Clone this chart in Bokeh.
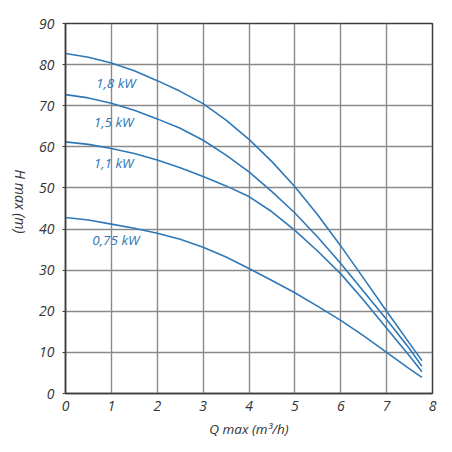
import math
from bokeh.plotting import figure
from bokeh.models import FixedTicker, Range1d, Label
from bokeh.embed import file_html
from bokeh.resources import INLINE

# flow Q (m3/h)
q = [0, 0.5, 1, 1.5, 2, 2.5, 3, 3.5, 4, 4.5, 5, 5.5, 6, 6.5, 7, 7.5, 7.77]

# head H (m) per motor power
h_18 = [82.7, 81.8, 80.4, 78.5, 76.1, 73.5, 70.5, 66.5, 61.8, 56.4, 50.3, 43.4, 35.9, 28.0, 20.0, 12.2, 8.0]
h_15 = [72.7, 71.9, 70.6, 68.9, 66.8, 64.5, 61.6, 58.0, 53.9, 49.1, 43.9, 38.0, 31.6, 24.8, 18.0, 10.9, 6.6]
h_11 = [61.2, 60.6, 59.6, 58.4, 56.8, 54.9, 52.8, 50.5, 47.9, 44.2, 39.7, 34.6, 29.1, 22.7, 15.9, 9.1, 5.3]
h_075 = [42.8, 42.2, 41.2, 40.2, 39.0, 37.5, 35.6, 33.2, 30.4, 27.5, 24.5, 21.2, 17.8, 14.0, 10.0, 6.0, 3.9]

labels = ["1,8 kW", "1,5 kW", "1,1 kW", "0,75 kW"]
label_x = [1.1, 1.05, 1.05, 1.1]
label_y = [75.5, 66.0, 56.0, 37.3]

x_ticks = [0, 1, 2, 3, 4, 5, 6, 7, 8]
y_ticks = [0, 10, 20, 30, 40, 50, 60, 70, 80, 90]

FONT = "Open Sans"
BLUE = "#2f78b8"
GRID = "#8a8a8a"
DARK = "#3c3c3c"
TEXT = "#333333"

p = figure(width=452, height=452, output_backend="svg", toolbar_location=None,
           x_range=Range1d(0, 8), y_range=Range1d(0, 90),
           min_border_left=65, min_border_right=20, min_border_top=23, min_border_bottom=59)

for h in (h_18, h_15, h_11, h_075):
    p.line(q, h, line_color=BLUE, line_width=1.6)

for t, lx, ly in zip(labels, label_x, label_y):
    p.add_layout(Label(x=lx, y=ly, text=t, text_font=FONT, text_font_style="italic",
                       text_font_size="13.5px", text_color=BLUE,
                       text_align="center", text_baseline="middle"))

p.xaxis.ticker = FixedTicker(ticks=x_ticks)
p.yaxis.ticker = FixedTicker(ticks=y_ticks)
p.xgrid.ticker = FixedTicker(ticks=x_ticks)
p.ygrid.ticker = FixedTicker(ticks=y_ticks)

p.grid.grid_line_color = GRID
p.grid.grid_line_width = 1.4
p.grid.grid_line_alpha = 1.0

p.outline_line_color = DARK
p.outline_line_width = 1.5
p.outline_line_alpha = 1.0

for ax in (p.xaxis, p.yaxis):
    ax.axis_line_color = DARK
    ax.axis_line_width = 1.5
    ax.major_tick_line_color = DARK
    ax.minor_tick_line_color = None
    ax.major_label_text_font = FONT
    ax.major_label_text_font_style = "italic"
    ax.major_label_text_font_size = "14px"
    ax.major_label_text_color = TEXT
    ax.axis_label_text_font = FONT
    ax.axis_label_text_font_style = "italic"
    ax.axis_label_text_font_size = "13.5px"
    ax.axis_label_text_color = TEXT

p.xaxis.major_tick_out = 0
p.xaxis.major_tick_in = 0
p.xaxis.major_label_standoff = 7
p.yaxis.major_tick_out = 3
p.yaxis.major_tick_in = 0
p.yaxis.major_label_standoff = 8

p.xaxis.axis_label = "Q max (m³/h)"
p.xaxis.axis_label_standoff = 6

# y label reads top to bottom, placed in the left panel so it is not clipped
p.add_layout(Label(x=-0.985, y=46.7, text="H max (m)", angle=-math.pi / 2,
                   text_font=FONT, text_font_style="italic", text_font_size="14px",
                   text_color=TEXT, text_align="center", text_baseline="middle"), "left")

open("out.html", "w").write(file_html(p, INLINE))
